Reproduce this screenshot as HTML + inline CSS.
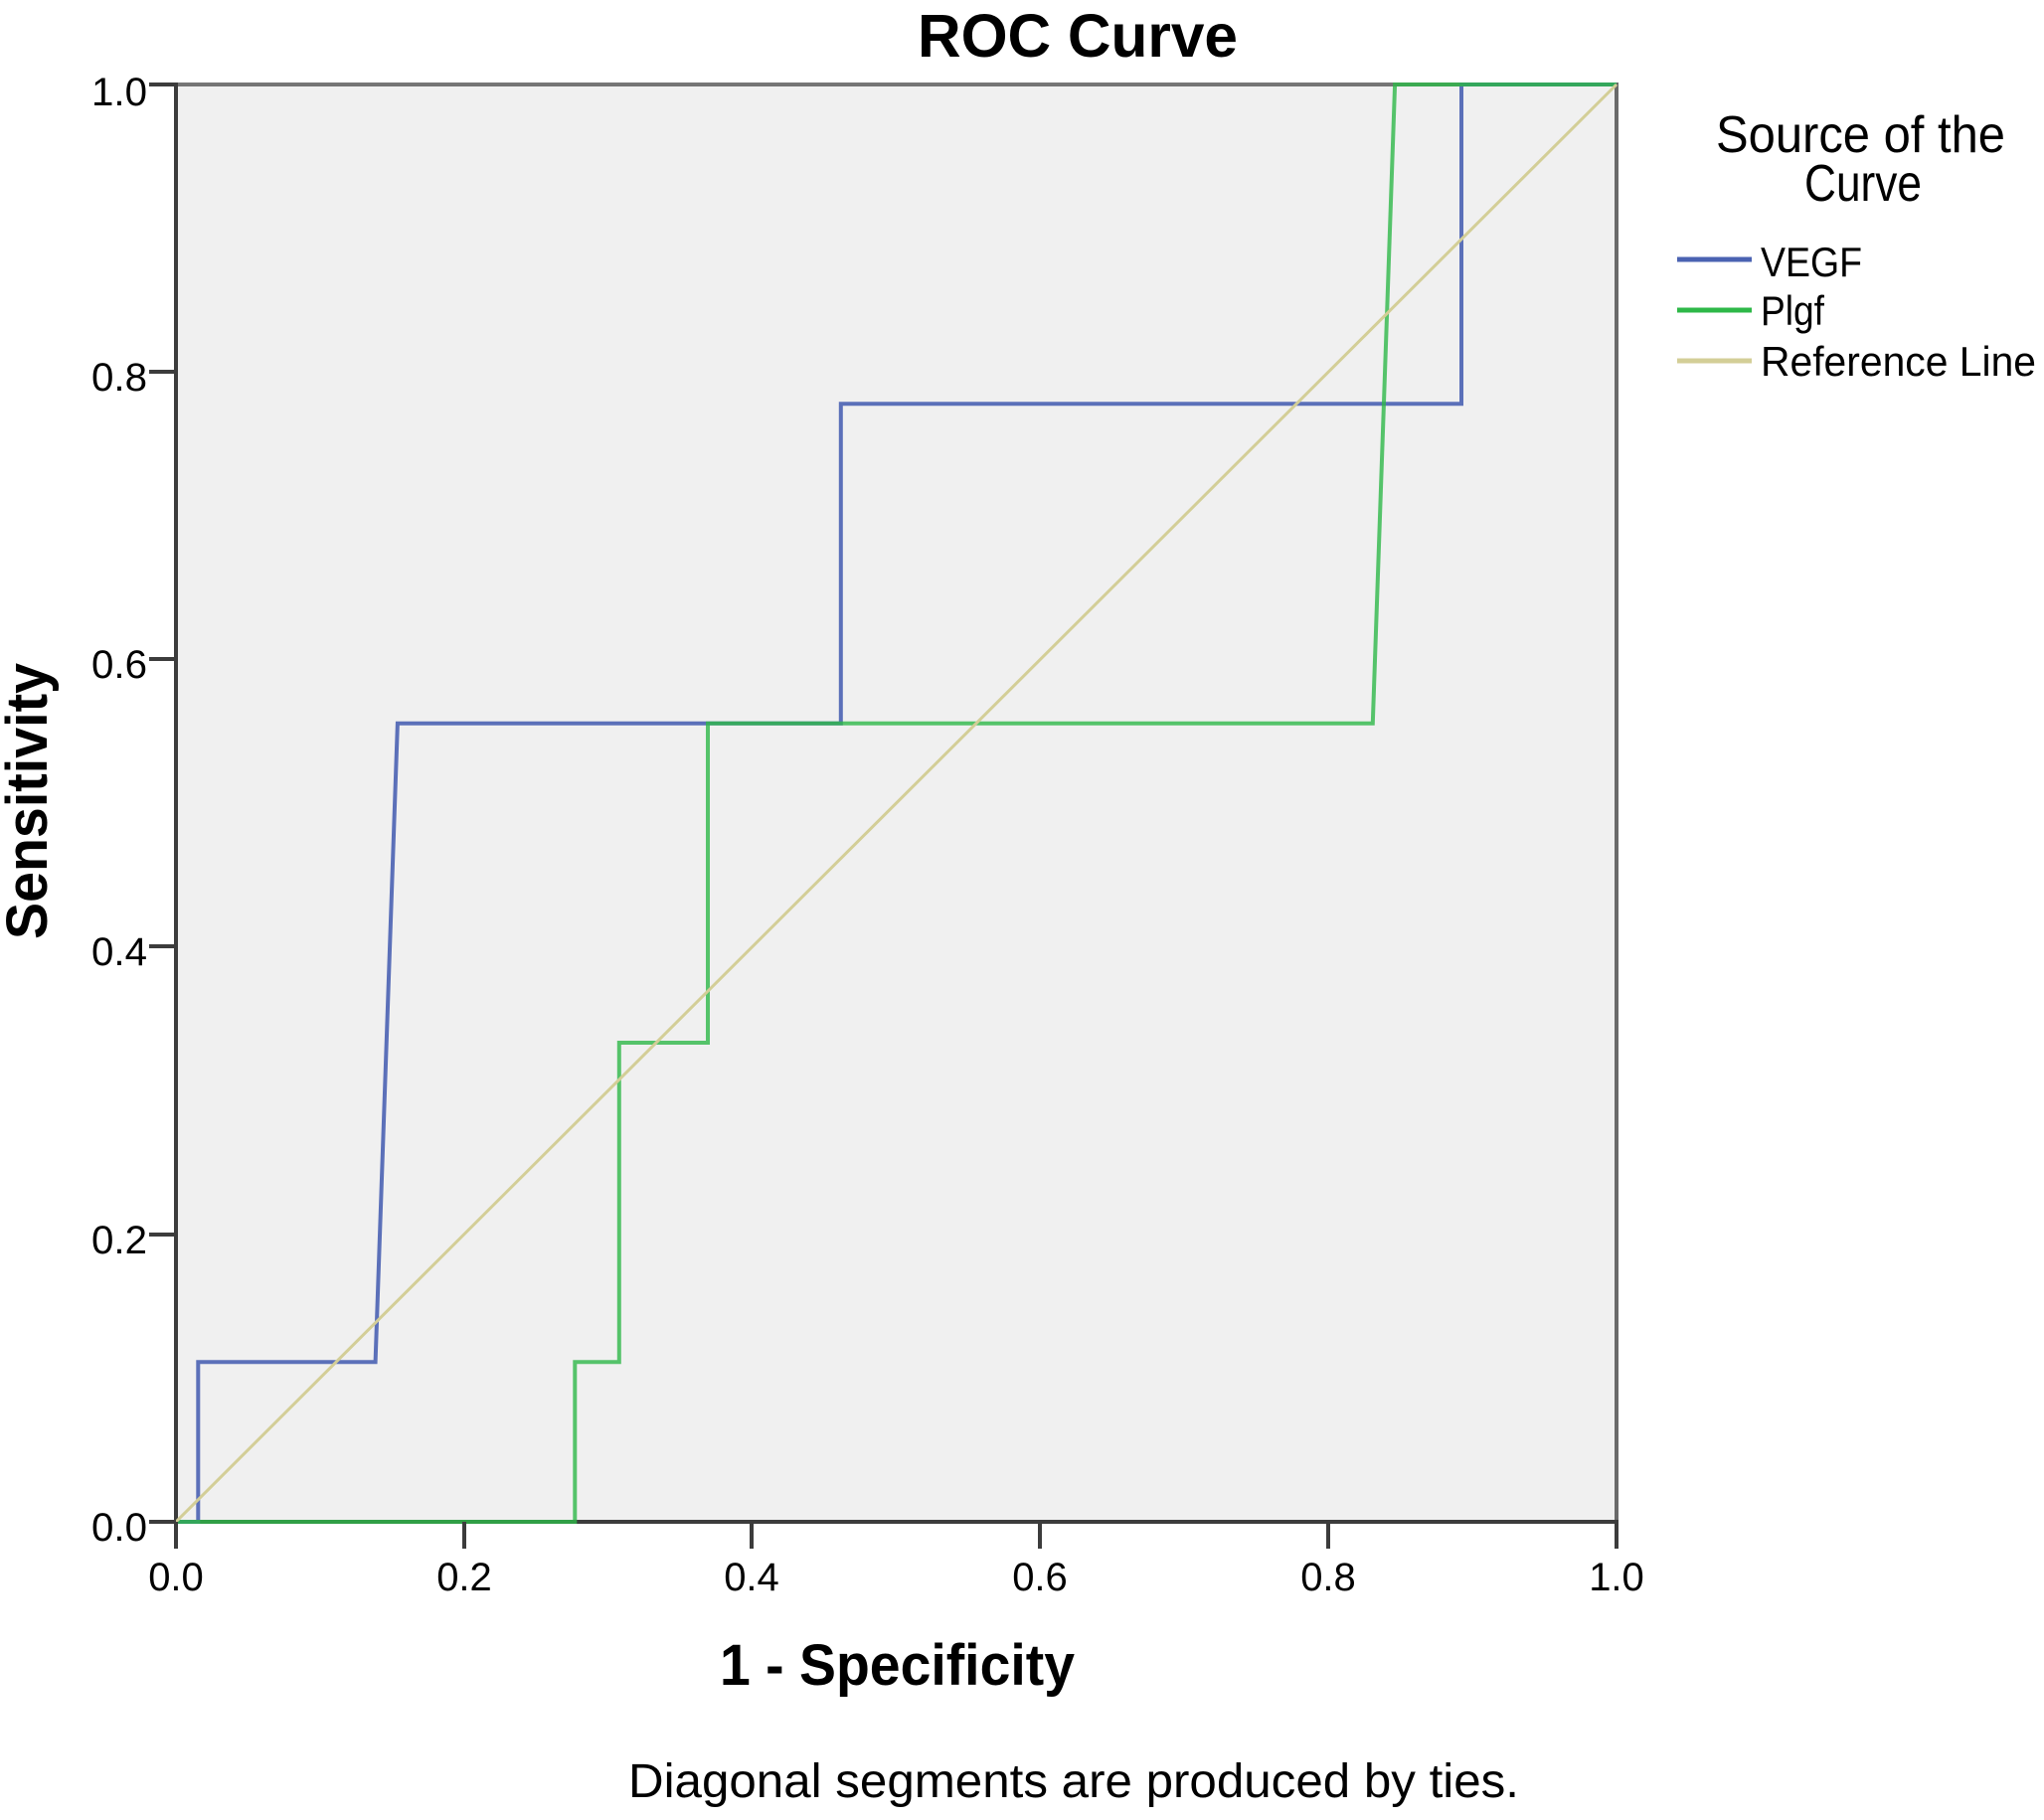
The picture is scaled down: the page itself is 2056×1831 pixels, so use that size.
<!DOCTYPE html>
<html>
<head>
<meta charset="utf-8">
<style>
  html, body { margin: 0; padding: 0; background: #ffffff; }
  svg { display: block; }
  text { font-family: "Liberation Sans", Arial, sans-serif; fill: #000; }
</style>
</head>
<body>
<svg width="2056" height="1831" viewBox="0 0 2056 1831" xmlns="http://www.w3.org/2000/svg">
  <rect x="0" y="0" width="2056" height="1831" fill="#ffffff"/>

  <!-- Title -->
  <text x="923" y="57" font-size="61" font-weight="bold" textLength="322" lengthAdjust="spacingAndGlyphs">ROC Curve</text>

  <!-- Plot area -->
  <rect x="177" y="85" width="1449" height="1446" fill="#f0f0f0"/>

  <!-- Frame: top & right -->
  <line x1="177" y1="85" x2="1627" y2="85" stroke="#5e5e5e" stroke-width="4" stroke-opacity="0.85"/>
  <line x1="1626" y1="83" x2="1626" y2="1533" stroke="#6a6a6a" stroke-width="4"/>
  <!-- Axes: left & bottom -->
  <line x1="177" y1="83" x2="177" y2="1533" stroke="#3c3c3c" stroke-width="4"/>
  <line x1="175" y1="1531" x2="1628" y2="1531" stroke="#3c3c3c" stroke-width="4"/>

  <!-- Series: VEGF -->
  <path d="M177,1531 L199.3,1531 L199.3,1370.3 L377.6,1370.3 L399.9,727.7 L845.8,727.7 L845.8,406.3 L1470,406.3 L1470,85 L1626,85"
        fill="none" stroke="#4a62b2" stroke-opacity="0.9" stroke-width="4" stroke-linejoin="miter"/>
  <!-- Series: Plgf -->
  <path d="M177,1531 L578.3,1531 L578.3,1370.3 L622.8,1370.3 L622.8,1049 L712,1049 L712,727.7 L1380.8,727.7 L1403.1,85 L1626,85"
        fill="none" stroke="#2eb848" stroke-opacity="0.8" stroke-width="4" stroke-linejoin="miter"/>
  <!-- Reference line -->
  <line x1="177" y1="1531" x2="1626" y2="85" stroke="#d3ce97" stroke-width="3"/>

  <!-- Y ticks -->
  <g stroke="#3c3c3c" stroke-width="4">
    <line x1="150" y1="85" x2="177" y2="85"/>
    <line x1="150" y1="374" x2="177" y2="374"/>
    <line x1="150" y1="663" x2="177" y2="663"/>
    <line x1="150" y1="952" x2="177" y2="952"/>
    <line x1="150" y1="1242" x2="177" y2="1242"/>
    <line x1="150" y1="1531" x2="177" y2="1531"/>
  </g>
  <!-- X ticks -->
  <g stroke="#3c3c3c" stroke-width="4">
    <line x1="177" y1="1531" x2="177" y2="1558"/>
    <line x1="467" y1="1531" x2="467" y2="1558"/>
    <line x1="756" y1="1531" x2="756" y2="1558"/>
    <line x1="1046" y1="1531" x2="1046" y2="1558"/>
    <line x1="1336" y1="1531" x2="1336" y2="1558"/>
    <line x1="1626" y1="1531" x2="1626" y2="1558"/>
  </g>

  <!-- Y tick labels -->
  <g font-size="40" text-anchor="end">
    <text x="148" y="106" textLength="56" lengthAdjust="spacingAndGlyphs">1.0</text>
    <text x="148" y="393" textLength="56" lengthAdjust="spacingAndGlyphs">0.8</text>
    <text x="148" y="682" textLength="56" lengthAdjust="spacingAndGlyphs">0.6</text>
    <text x="148" y="971" textLength="56" lengthAdjust="spacingAndGlyphs">0.4</text>
    <text x="148" y="1261" textLength="56" lengthAdjust="spacingAndGlyphs">0.2</text>
    <text x="148" y="1550" textLength="56" lengthAdjust="spacingAndGlyphs">0.0</text>
  </g>
  <!-- X tick labels -->
  <g font-size="40" text-anchor="middle">
    <text x="177" y="1600">0.0</text>
    <text x="467" y="1600">0.2</text>
    <text x="756" y="1600">0.4</text>
    <text x="1046" y="1600">0.6</text>
    <text x="1336" y="1600">0.8</text>
    <text x="1626" y="1600">1.0</text>
  </g>

  <!-- Axis titles -->
  <text x="724" y="1695" font-size="58" font-weight="bold" textLength="357" lengthAdjust="spacingAndGlyphs">1 - Specificity</text>
  <text transform="translate(47,945) rotate(-90)" x="0" y="0" font-size="58" font-weight="bold" textLength="278" lengthAdjust="spacingAndGlyphs">Sensitivity</text>

  <!-- Footnote -->
  <text x="632" y="1808" font-size="48" textLength="896" lengthAdjust="spacingAndGlyphs">Diagonal segments are produced by ties.</text>

  <!-- Legend -->
  <text x="1726" y="153" font-size="52" textLength="291" lengthAdjust="spacingAndGlyphs">Source of the</text>
  <text x="1815" y="202" font-size="52" textLength="118" lengthAdjust="spacingAndGlyphs">Curve</text>

  <line x1="1687" y1="261" x2="1762" y2="261" stroke="#4a62b2" stroke-width="5"/>
  <line x1="1687" y1="312" x2="1762" y2="312" stroke="#2eb848" stroke-width="5"/>
  <line x1="1687" y1="363" x2="1762" y2="363" stroke="#d3ce97" stroke-width="5"/>

  <text x="1771" y="278" font-size="42" textLength="102" lengthAdjust="spacingAndGlyphs">VEGF</text>
  <text x="1771" y="327" font-size="42" textLength="64" lengthAdjust="spacingAndGlyphs">Plgf</text>
  <text x="1771" y="378" font-size="42" textLength="277" lengthAdjust="spacingAndGlyphs">Reference Line</text>
</svg>
</body>
</html>
